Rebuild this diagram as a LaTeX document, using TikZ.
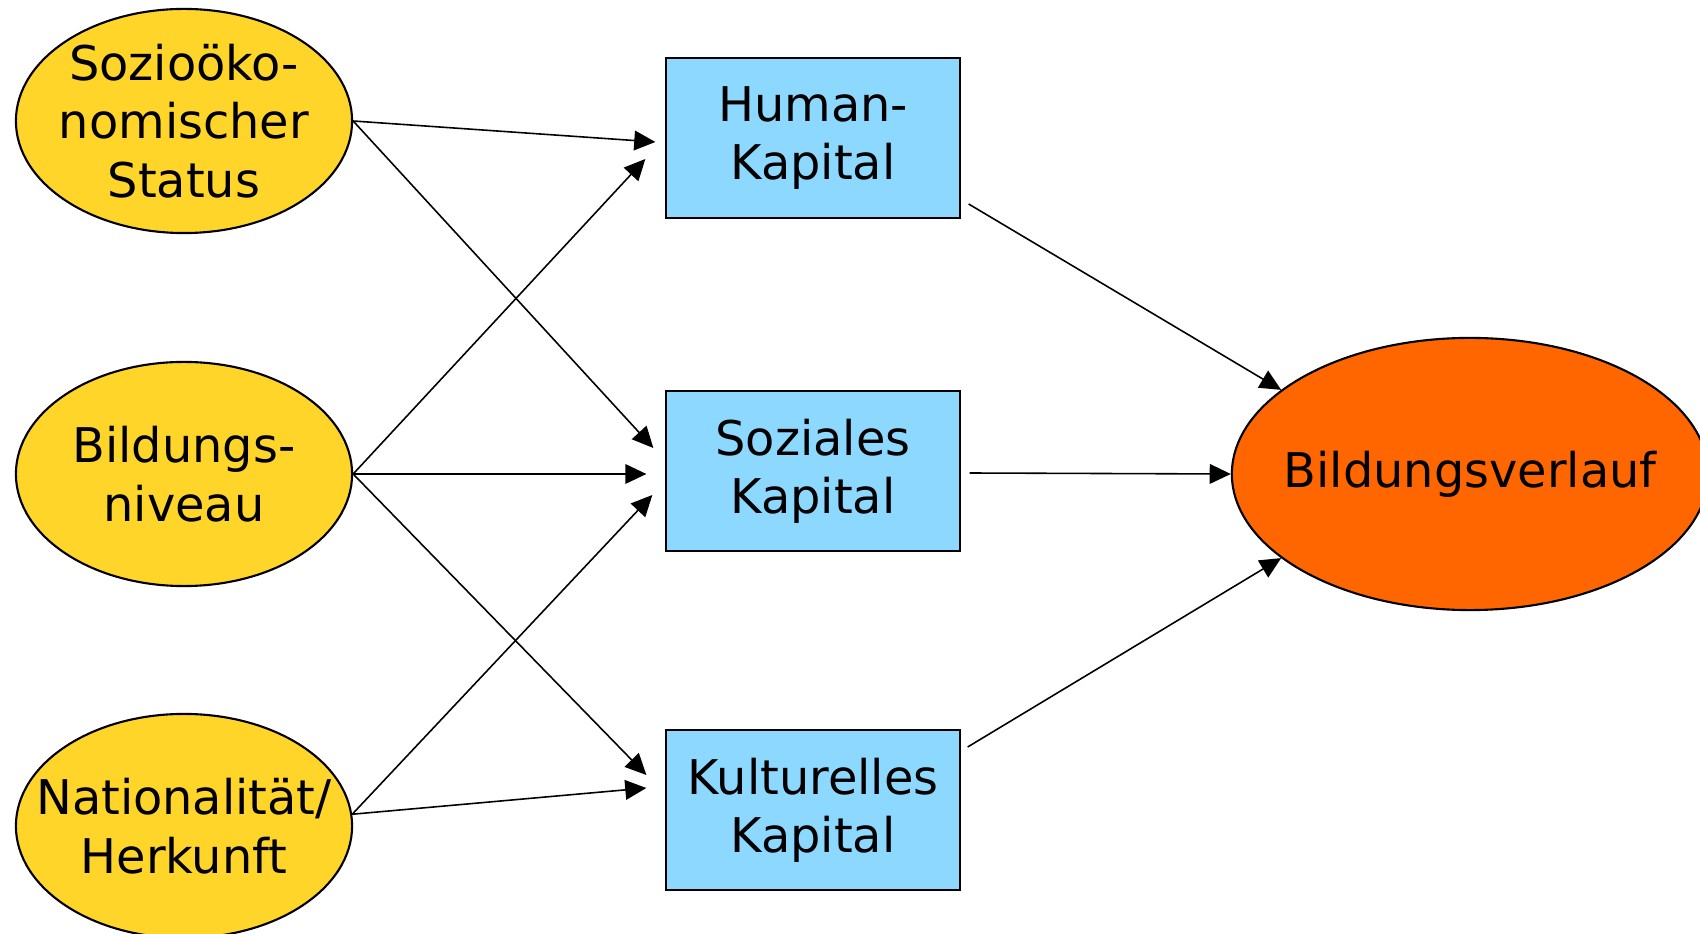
\documentclass[tikz,border=0pt]{standalone}
\usepackage{fontspec}
\setmainfont{DejaVu Sans}
\usepackage{tikz}
\usetikzlibrary{shapes.geometric}
\usetikzlibrary{arrows.meta}
\usepackage{xcolor}
\definecolor{gelb}{RGB}{255,213,42}
\definecolor{hblau}{RGB}{140,216,255}
\definecolor{dorange}{RGB}{255,102,0}

\begin{document}
\begin{tikzpicture}[x=0.01cm,y=-0.01cm,
  every node/.style={font=\fontsize{13.6}{16.6}\selectfont},
  quelle/.style={ellipse,draw,line width=0.6pt,fill=gelb,minimum width=3.36cm,minimum height=2.24cm},
  kapital/.style={rectangle,draw,line width=0.6pt,fill=hblau,minimum width=2.93cm,minimum height=1.6cm,align=center},
  pfeil/.style={-{Triangle[length=6pt,width=5.6pt]},line width=0.45pt}]
\useasboundingbox (0,0) rectangle (1700,934);
% Herkunftsmerkmale
\node[quelle,label={[align=center]center:Sozioöko-\\nomischer\\Status}] (ses) at (184,121) {};
\node[quelle,label={[align=center]center:Bildungs-\\niveau}] (niv) at (184,474) {};
\node[quelle,label={[align=center]center:Nationalität/\\Herkunft}] (nat) at (184,826) {};
% Kapitalien
\node[kapital] (hk) at (813,138) {Human-\\Kapital};
\node[kapital] (sk) at (813,471) {Soziales\\Kapital};
\node[kapital] (kk) at (813,810) {Kulturelles\\Kapital};
% Ziel
\node[ellipse,draw,line width=0.6pt,fill=dorange,minimum width=4.76cm,minimum height=2.72cm,
  label={center:Bildungsverlauf}] (bv) at (1470,474) {};
% links -> Mitte
\draw[pfeil] (ses.east) -- ([shift={(-10,4)}]hk.west);
\draw[pfeil] (ses.east) -- ([shift={(-12,-23)}]sk.west);
\draw[pfeil] (niv.east) -- ([shift={(-20,21)}]hk.west);
\draw[pfeil] (niv.east) -- ([shift={(-19,3)}]sk.west);
\draw[pfeil] (niv.east) -- ([shift={(-19,-35)}]kk.west);
\draw[pfeil] (nat.4) -- ([shift={(-13,24)}]sk.west);
\draw[pfeil] (nat.4) -- ([shift={(-19,-22)}]kk.west);
% Mitte -> rechts
\draw[pfeil] ([shift={(8,66)}]hk.east) -- (bv.156);
\draw[pfeil] ([shift={(9,2)}]sk.east) -- (bv.west);
\draw[pfeil] ([shift={(7,-63)}]kk.east) -- (bv.204);
\end{tikzpicture}
\end{document}
